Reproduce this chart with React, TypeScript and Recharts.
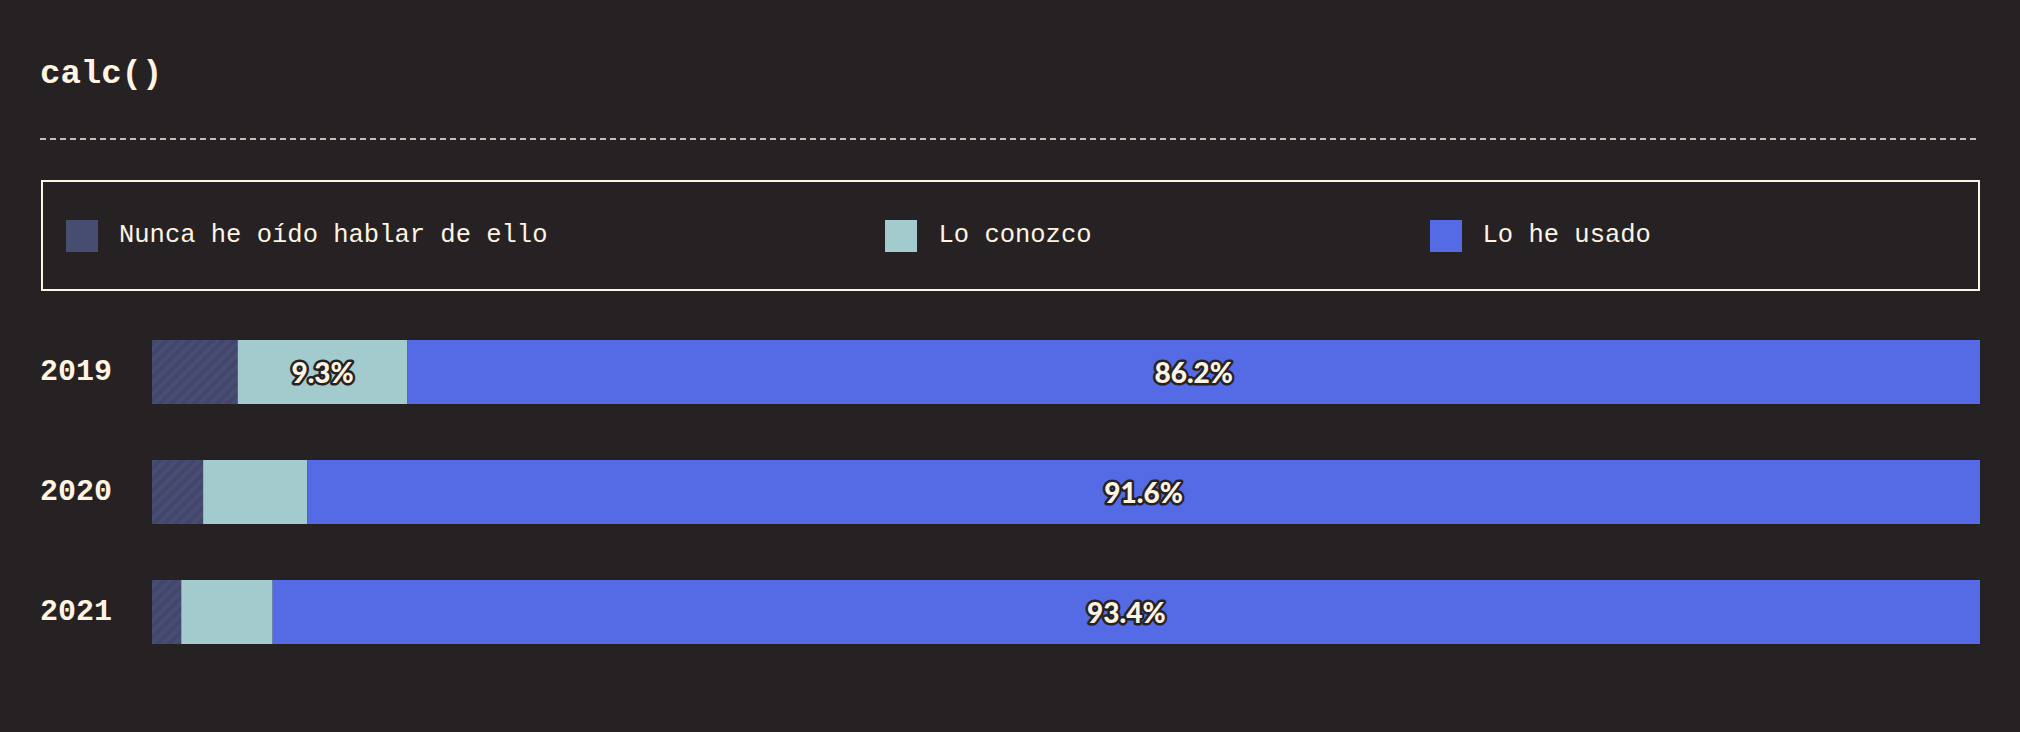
import { BarChart, Bar, XAxis, YAxis, LabelList } from 'recharts'

const YEARS = ['2019', '2020', '2021']
const NEVER_HEARD = [4.7, 2.8, 1.6]
const KNOW_IT = [9.3, 5.7, 5.0]
const USED_IT = [86.2, 91.6, 93.4]

const SERIES = [
  { key: 'never' as const, label: 'Nunca he oído hablar de ello', color: '#474c71', fill: 'url(#hatch)' },
  { key: 'know' as const, label: 'Lo conozco', color: '#a3cacd', fill: '#a3cacd' },
  { key: 'used' as const, label: 'Lo he usado', color: '#556be5', fill: '#556be5' },
]

const BG = '#262224'
const CREAM = '#fdf4e3'
const MONO = '"Liberation Mono", "DejaVu Sans Mono", monospace'

const data = YEARS.map((year, i) => ({
  year,
  never: NEVER_HEARD[i],
  know: KNOW_IT[i],
  used: USED_IT[i],
}))

function YearTick({ y, payload }: any) {
  return (
    <text x={40} y={y} dominantBaseline="central" fill={CREAM} fontFamily={MONO} fontWeight={700} fontSize={30}>
      {payload.value}
    </text>
  )
}

// only label the segments that are wide enough
const renderPct = (props: any) => {
  const { x, y, width, height, value } = props
  if (value == null || Number(value) < 8) return null
  return (
    <text
      x={Number(x) + Number(width) / 2}
      y={Number(y) + Number(height) / 2}
      textAnchor="middle"
      dominantBaseline="central"
      fill={CREAM}
      stroke={BG}
      strokeWidth={5}
      strokeLinejoin="round"
      style={{ paintOrder: 'stroke' }}
      fontFamily="Lato"
      fontWeight={900}
      fontSize={28}
    >
      {Number(value).toFixed(1)}%
    </text>
  )
}

export default function App() {
  return (
    <div style={{ position: 'relative', width: 2020, height: 732, background: BG, overflow: 'hidden' }}>
      <style>{`body{margin:0;background:${BG}}`}</style>

      <svg width={0} height={0} style={{ position: 'absolute' }}>
        <defs>
          <pattern id="hatch" patternUnits="userSpaceOnUse" width={8} height={8} patternTransform="rotate(45)">
            <rect width={8} height={8} fill="#484d73" />
            <rect width={4} height={8} fill="#42466a" />
          </pattern>
        </defs>
      </svg>

      {/* Title + divider */}
      <svg width={2020} height={160} style={{ position: 'absolute', left: 0, top: 0 }}>
        <text x={40} y={83} fill={CREAM} fontFamily={MONO} fontWeight={700} fontSize={34}>
          calc()
        </text>
        <line x1={40} x2={1980} y1={139} y2={139} stroke={CREAM} strokeWidth={1.5} strokeDasharray="6 4" />
      </svg>

      {/* Legend */}
      <div
        style={{
          position: 'absolute',
          left: 41,
          top: 180,
          width: 1939,
          height: 111,
          boxSizing: 'border-box',
          border: `2px solid ${CREAM}`,
          display: 'flex',
          alignItems: 'center',
          paddingLeft: 23,
          gap: 338,
        }}
      >
        {SERIES.map((s) => (
          <div key={s.key} style={{ display: 'flex', alignItems: 'center', gap: 21 }}>
            <div style={{ width: 32, height: 32, background: s.color, flexShrink: 0 }} />
            <span style={{ color: CREAM, fontFamily: MONO, fontSize: 25.5, whiteSpace: 'nowrap', lineHeight: 1 }}>
              {s.label}
            </span>
          </div>
        ))}
      </div>

      <div style={{ position: 'absolute', left: 0, top: 312 }}>
        <BarChart
          width={2020}
          height={360}
          data={data}
          layout="vertical"
          stackOffset="expand"
          margin={{ top: 0, right: 40, bottom: 0, left: 40 }}
          barSize={64}
        >
          <XAxis type="number" hide />
          <YAxis
            type="category"
            dataKey="year"
            width={112}
            tickLine={false}
            axisLine={false}
            tick={<YearTick />}
          />
          {SERIES.map((s) => (
            <Bar key={s.key} dataKey={s.key} stackId="a" fill={s.fill} isAnimationActive={false}>
              <LabelList dataKey={s.key} content={renderPct} />
            </Bar>
          ))}
        </BarChart>
      </div>
    </div>
  )
}
